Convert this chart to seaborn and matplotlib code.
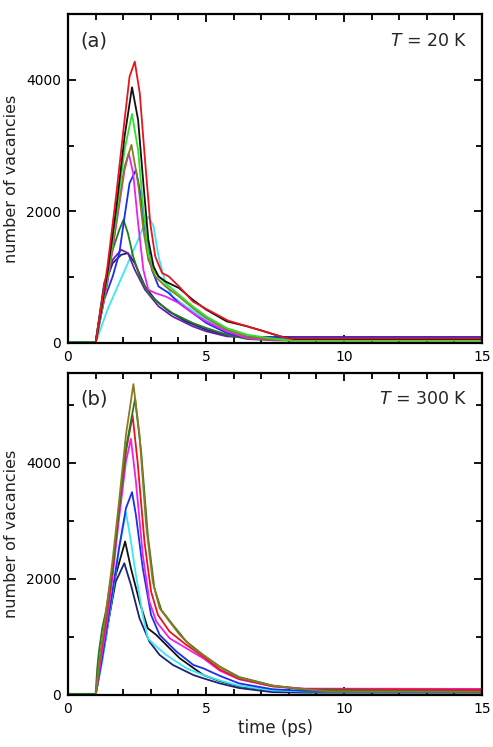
import numpy as np
import pandas as pd
import matplotlib
matplotlib.use("Agg")
import matplotlib.pyplot as plt
from matplotlib.ticker import MultipleLocator
import seaborn as sns

# ------------------------------------------------------------------
# data: time (ps) and number of vacancies
# ------------------------------------------------------------------
# panel (a), T = 20 K
a_red_t = [0, 1.0, 1.43, 1.74, 2.05, 2.23, 2.42, 2.60, 2.79, 2.98, 3.16, 3.41, 3.65, 4.02, 4.52, 5.0, 5.8, 6.6, 7.0, 7.7, 8.0, 15]
a_red_v = [0, 0, 1164, 2226, 3390, 4048, 4276, 3795, 2783, 1822, 1316, 1063, 1012, 860, 632, 520, 340, 240, 190, 100, 70, 70]
a_black_t = [0, 1.0, 1.43, 1.74, 2.05, 2.32, 2.54, 2.73, 2.91, 3.10, 3.28, 3.53, 4.02, 4.52, 5.01, 5.75, 6.49, 6.99, 7.7, 8.2, 15]
a_black_v = [0, 0, 1063, 2024, 3137, 3886, 3390, 2429, 1569, 1164, 1012, 936, 835, 658, 506, 329, 253, 192, 100, 60, 60]
a_lime_t = [0, 1.0, 1.43, 1.74, 2.05, 2.32, 2.54, 2.73, 2.91, 3.16, 3.53, 4.02, 4.52, 5.01, 5.75, 6.49, 7.2, 8.0, 15]
a_lime_v = [0, 0, 1012, 1923, 2935, 3481, 2935, 2024, 1366, 1063, 911, 734, 557, 405, 228, 127, 80, 40, 40]
a_olive_t = [0, 1.0, 1.43, 1.74, 2.05, 2.30, 2.54, 2.73, 2.91, 3.16, 3.53, 4.02, 4.52, 5.01, 5.75, 6.49, 7.2, 8.0, 15]
a_olive_v = [0, 0, 961, 1822, 2682, 3011, 2429, 1720, 1265, 1012, 860, 708, 531, 380, 202, 101, 60, 40, 40]
a_magenta_t = [0, 1.0, 1.43, 1.74, 2.05, 2.20, 2.36, 2.54, 2.73, 2.91, 3.16, 3.53, 4.02, 4.52, 5.01, 5.75, 6.49, 7.2, 8.0, 15]
a_magenta_v = [0, 0, 911, 1771, 2631, 2884, 2581, 1822, 1113, 810, 759, 708, 607, 455, 329, 177, 76, 50, 40, 40]
a_blue_t = [0, 1.0, 1.31, 1.62, 1.86, 2.05, 2.23, 2.46, 2.60, 2.79, 3.04, 3.28, 3.65, 4.02, 4.52, 5.01, 5.75, 6.49, 7.2, 8.0, 15]
a_blue_v = [0, 0, 658, 1012, 1366, 1923, 2429, 2631, 2328, 1720, 1113, 860, 759, 607, 455, 304, 152, 76, 80, 85, 85]
a_dkgreen_t = [0, 1.0, 1.31, 1.62, 1.86, 2.01, 2.17, 2.36, 2.60, 2.91, 3.28, 3.78, 4.52, 5.01, 5.75, 6.5, 7.5, 15]
a_dkgreen_v = [15, 15, 860, 1417, 1720, 1872, 1670, 1316, 1012, 759, 607, 455, 304, 228, 127, 60, 40, 40]
a_cyan_t = [0, 1.0, 1.43, 1.80, 2.17, 2.54, 2.73, 2.91, 3.10, 3.28, 3.53, 3.78, 4.27, 5.01, 5.75, 6.49, 7.2, 15]
a_cyan_v = [0, 0, 506, 860, 1214, 1569, 1771, 1923, 1771, 1316, 911, 708, 557, 354, 202, 101, 60, 60]
a_purple_t = [0, 1.0, 1.31, 1.62, 1.93, 2.17, 2.42, 2.79, 3.28, 3.78, 4.52, 5.01, 5.75, 6.5, 15]
a_purple_v = [0, 0, 911, 1265, 1417, 1366, 1113, 810, 557, 405, 253, 177, 101, 85, 85]
a_navy_t = [0, 1.0, 1.31, 1.62, 1.93, 2.17, 2.42, 2.79, 3.16, 3.65, 4.27, 5.01, 5.75, 6.5, 15]
a_navy_v = [0, 0, 860, 1214, 1341, 1366, 1214, 860, 658, 481, 329, 202, 111, 90, 90]

# panel (b), T = 300 K
b_olive_t = [0, 1.0, 1.18, 1.37, 1.61, 1.85, 2.10, 2.37, 2.59, 2.83, 3.07, 3.32, 3.68, 4.05, 4.54, 4.90, 5.5, 6.2, 7.4, 8.6, 9.5, 15]
b_olive_v = [0, 0, 748, 1380, 2300, 3335, 4485, 5359, 4485, 2933, 1955, 1495, 1265, 1035, 805, 690, 480, 300, 160, 100, 60, 60]
b_dkgreen_t = [0, 1.0, 1.06, 1.12, 1.24, 1.37, 1.61, 1.85, 2.10, 2.43, 2.65, 2.89, 3.13, 3.38, 3.80, 4.29, 4.90, 5.5, 6.2, 7.4, 8.6, 15]
b_dkgreen_v = [20, 20, 460, 748, 1150, 1438, 2185, 3220, 4255, 5106, 4198, 2760, 1840, 1466, 1208, 920, 690, 490, 310, 165, 90, 50]
b_red_t = [0, 1.0, 1.18, 1.37, 1.61, 1.85, 2.10, 2.34, 2.52, 2.77, 3.01, 3.26, 3.68, 4.29, 4.90, 5.5, 6.2, 7.4, 8.6, 15]
b_red_v = [0, 0, 690, 1265, 2128, 3220, 4198, 4818, 4025, 2645, 1783, 1380, 1093, 863, 661, 440, 280, 150, 100, 90]
b_magenta_t = [0, 1.0, 1.18, 1.37, 1.61, 1.85, 2.10, 2.28, 2.46, 2.71, 2.95, 3.20, 3.68, 4.29, 4.90, 5.5, 6.2, 7.4, 8.6, 15]
b_magenta_v = [0, 0, 575, 1150, 2013, 3048, 4025, 4416, 3680, 2415, 1610, 1265, 978, 805, 633, 420, 270, 150, 110, 105]
b_blue_t = [0, 1.0, 1.24, 1.61, 1.85, 2.10, 2.32, 2.46, 2.71, 3.01, 3.32, 3.93, 4.54, 4.90, 5.5, 6.2, 7.4, 8.6, 15]
b_blue_v = [0, 0, 633, 1783, 2530, 3220, 3496, 3105, 2185, 1380, 1035, 748, 518, 460, 330, 200, 100, 70, 70]
b_cyan_t = [0, 1.0, 1.24, 1.61, 1.85, 2.10, 2.28, 2.46, 2.71, 2.89, 3.13, 3.56, 4.29, 4.90, 5.5, 6.2, 7.4, 8.6, 15]
b_cyan_v = [0, 0, 575, 1725, 2530, 3151, 2645, 2070, 1380, 978, 863, 690, 460, 345, 250, 160, 80, 60, 60]
b_black_t = [0, 1.0, 1.37, 1.73, 2.07, 2.28, 2.59, 2.89, 3.20, 3.56, 4.05, 4.90, 5.5, 6.2, 7.4, 8.6, 15]
b_black_v = [0, 0, 978, 2070, 2645, 2185, 1610, 1150, 1035, 863, 633, 345, 240, 150, 80, 60, 60]
b_navy_t = [0, 1.0, 1.37, 1.73, 2.04, 2.28, 2.59, 2.95, 3.32, 3.80, 4.54, 4.90, 5.5, 6.2, 7.4, 8.6, 15]
b_navy_v = [0, 0, 1035, 1955, 2271, 1898, 1323, 920, 690, 518, 345, 288, 200, 120, 50, 40, 40]

colors = {
    "red": "#e8141c", "black": "#111111", "lime": "#2fe02f", "olive": "#8c7a22",
    "magenta": "#f01ef0", "blue": "#1a2ff0", "dkgreen": "#237a23", "cyan": "#38e8f5",
    "purple": "#6a1fa8", "navy": "#1c2377",
}

panel_a = {
    "cyan": (a_cyan_t, a_cyan_v), "navy": (a_navy_t, a_navy_v), "purple": (a_purple_t, a_purple_v),
    "dkgreen": (a_dkgreen_t, a_dkgreen_v), "blue": (a_blue_t, a_blue_v), "magenta": (a_magenta_t, a_magenta_v),
    "olive": (a_olive_t, a_olive_v), "lime": (a_lime_t, a_lime_v), "black": (a_black_t, a_black_v),
    "red": (a_red_t, a_red_v),
}
panel_b = {
    "navy": (b_navy_t, b_navy_v), "black": (b_black_t, b_black_v), "cyan": (b_cyan_t, b_cyan_v),
    "blue": (b_blue_t, b_blue_v), "magenta": (b_magenta_t, b_magenta_v), "red": (b_red_t, b_red_v),
    "dkgreen": (b_dkgreen_t, b_dkgreen_v), "olive": (b_olive_t, b_olive_v),
}


def to_frame(panel):
    rows = []
    for name, (t, v) in panel.items():
        for ti, vi in zip(t, v):
            rows.append((name, ti, vi))
    return pd.DataFrame(rows, columns=["series", "time", "vac"])


sns.set_style("ticks")
plt.rcParams["font.family"] = ["DejaVu Sans"]
plt.rcParams["mathtext.fontset"] = "dejavusans"

fig = plt.figure(figsize=(4.93, 7.47), dpi=100)
ax_a = fig.add_axes([68 / 493, 1 - 343 / 747, 414 / 493, 329 / 747])
ax_b = fig.add_axes([68 / 493, 1 - 695 / 747, 414 / 493, 322 / 747])

for ax, panel, ymax, tag, temp in [
    (ax_a, panel_a, 5000, "(a)", "20 K"),
    (ax_b, panel_b, 5550, "(b)", "300 K"),
]:
    df = to_frame(panel)
    sns.lineplot(data=df, x="time", y="vac", hue="series", hue_order=list(panel.keys()),
                 palette=colors, estimator=None, sort=False, linewidth=1.3,
                 legend=False, ax=ax)
    ax.set_xlim(0, 15)
    ax.set_ylim(0, ymax)
    ax.xaxis.set_major_locator(MultipleLocator(5))
    ax.xaxis.set_minor_locator(MultipleLocator(1))
    ax.yaxis.set_major_locator(MultipleLocator(2000))
    ax.yaxis.set_minor_locator(MultipleLocator(1000))
    ax.tick_params(which="both", direction="in", top=True, right=True, width=1.3,
                   labelsize=10, colors="black")
    ax.tick_params(which="major", length=6, pad=5)
    ax.tick_params(which="minor", length=4.5)
    for sp in ax.spines.values():
        sp.set_linewidth(1.6)
        sp.set_color("black")
    ax.set_ylabel("number of vacancies", fontsize=11.5, color="#222222")
    ax.yaxis.set_label_coords(-0.118, 0.5)
    ax.set_xlabel("")
    ax.text(0.03, 0.918, tag, transform=ax.transAxes, fontsize=14, ha="left", va="center")
    ax.text(0.965, 0.918, r"$T$ = " + temp, transform=ax.transAxes, fontsize=12.5,
            ha="right", va="center")

ax_b.set_xlabel("time (ps)", fontsize=12, color="#222222", labelpad=2)

plt.savefig("out.png", dpi=100)
